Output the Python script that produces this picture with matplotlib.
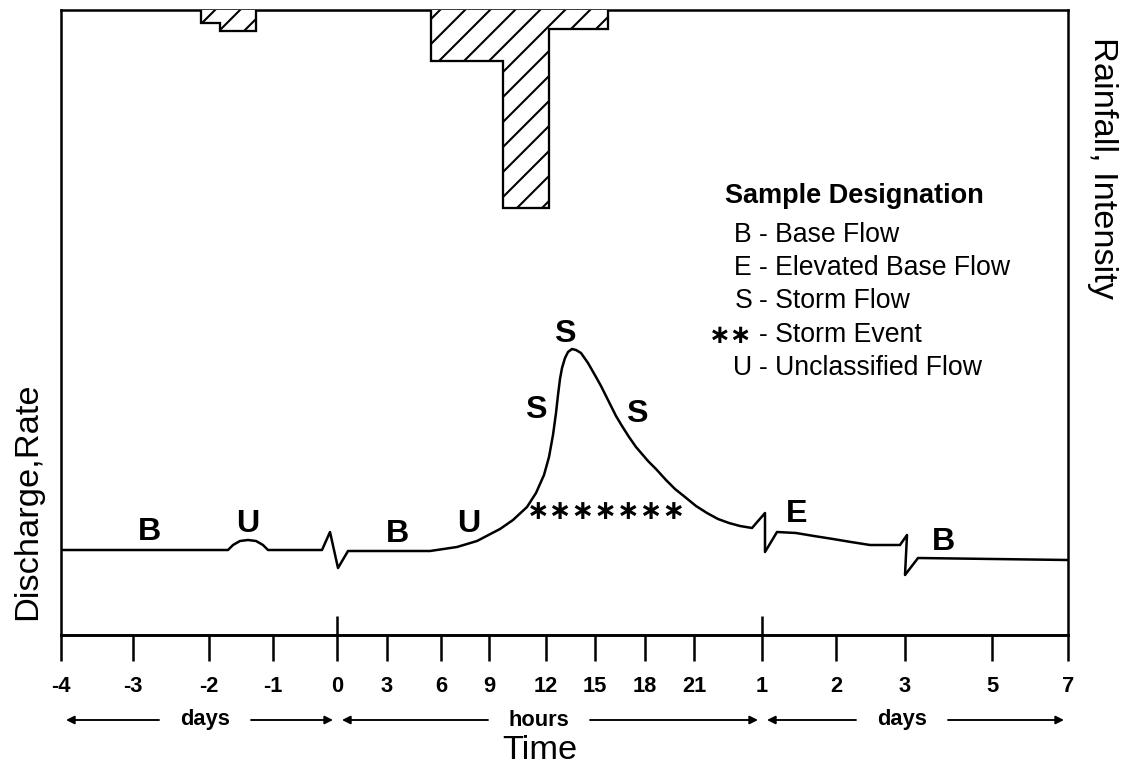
import matplotlib
matplotlib.use('Agg')
import matplotlib.pyplot as plt

plt.rcParams['font.family'] = ['Liberation Sans', 'DejaVu Sans']
plt.rcParams['hatch.linewidth'] = 1.0

# ---------------- data (schematic chart units) ----------------
# position along the (piecewise) time axis
tick_pos = [61, 133, 209, 273, 337, 387, 441, 489, 546, 595, 645, 694, 762, 836, 905, 992, 1068]
tick_labels = ['-4', '-3', '-2', '-1', '0', '3', '6', '9', '12', '15', '18', '21', '1', '2', '3', '5', '7']
major_pos = [337, 762]

# time-unit spans under the axis: (start, end, unit, label centre)
span_start = [61, 337, 762]
span_end = [337, 762, 1068]
span_unit = ['days', 'hours', 'days']
span_center = [205, 539, 902]

# discharge hydrograph (schematic)
flow_x = [61, 228, 233, 240, 248, 256, 263, 268, 322, 330, 338, 348, 430, 457, 477, 500,
          513, 527, 536, 544, 549, 553, 556, 558, 560, 562, 565, 568, 572, 576, 581, 588,
          596, 601, 606, 616, 622, 629, 636, 648, 656, 666, 675, 685, 696, 707, 718, 729,
          740, 752, 765, 765, 777, 796, 814, 833, 851, 870, 900, 907, 905, 918, 1068]
flow_y = [85, 85, 90, 94, 95, 94, 90, 85, 85, 103, 67, 84, 84, 88, 94, 106,
          115, 128, 142, 160, 178, 200, 222, 240, 256, 267, 277, 283, 286, 285, 282, 272,
          258, 249, 239, 219, 209, 198, 188, 174, 166, 155, 146, 138, 129, 122, 116, 112,
          109, 107, 122, 83, 103, 102, 99, 96, 93, 90, 90, 100, 60, 77, 75]

# rainfall intensity (hanging bars from the top)
rain_edges = [201, 220, 256, 431, 503, 549, 608]
rain_depth = [13, 21, 0, 51, 198, 19]

# sample designation letters on the hydrograph
samp_text = ['B', 'U', 'B', 'U', 'S', 'S', 'S', 'E', 'B']
samp_x = [149, 248, 397, 469, 536, 565, 637, 797, 944]
samp_y = [95, 103, 93, 103, 217, 293, 213, 113, 85]
storm_text = '\u2217' * 7
storm_x, storm_y = 606, 123

legend_title = 'Sample Designation'
legend_keys = ['B', 'E', 'S', '\u2217\u2217', 'U']
legend_desc = ['- Base Flow', '- Elevated Base Flow', '- Storm Flow', '- Storm Event',
               '- Unclassified Flow']
legend_y = [393, 360, 327, 293, 260]

# ---------------- figure ----------------
fig = plt.figure(figsize=(7.5, 767 / 150), dpi=150)
ax = fig.add_axes([61 / 1125, 132 / 767, 1007 / 1125, 625 / 767])
ax.set_xlim(61, 1068)
ax.set_ylim(0, 625)

for sp in ax.spines.values():
    sp.set_linewidth(1.2)
ax.spines['bottom'].set_linewidth(1.4)

ax.plot(flow_x, flow_y, color='black', lw=1.2, solid_joinstyle='round', solid_capstyle='round')

ax2 = ax.twinx()
ax2.set_ylim(625, 0)
ax2.stairs(rain_depth, rain_edges, baseline=0, fill=True, facecolor='white',
           edgecolor='black', hatch='//', lw=1.1)
ax2.set_yticks([])
for sp in ax2.spines.values():
    sp.set_visible(False)

ax.set_yticks([])
ax.set_xticks(tick_pos, tick_labels)
ax.tick_params(axis='x', direction='out', length=12.5, width=1.2, pad=7, labelsize=10.5)
for lbl in ax.get_xticklabels():
    lbl.set_fontweight('bold')
ax.vlines(major_pos, 0, 19, color='black', lw=1.2, clip_on=False)

# unit arrows
for a, b, unit, c in zip(span_start, span_end, span_unit, span_center):
    ax.text(c, -85, unit, ha='center', va='center', fontsize=10.5, fontweight='bold',
            clip_on=False)
    gap = 26 + 5 * len(unit)
    ap = dict(arrowstyle='-|>', color='black', lw=0.9, mutation_scale=8, shrinkA=0, shrinkB=0)
    ax.annotate('', xy=(a + 5, -85), xytext=(c - gap, -85), arrowprops=ap, annotation_clip=False)
    ax.annotate('', xy=(b - 4, -85), xytext=(c + gap, -85), arrowprops=ap, annotation_clip=False)

# labels
ax.set_xlabel('Time', fontsize=16.5)
ax.xaxis.set_label_coords((540 - 61) / 1007, (635 - 735) / 625)
ax.set_ylabel('Discharge,Rate', fontsize=16.5, va='center', ha='center')
ax.yaxis.set_label_coords((28 - 61) / 1007, (635 - 501) / 625)
ax2.set_ylabel('Rainfall, Intensity', fontsize=16.5, rotation=270, va='center', ha='center')
ax2.yaxis.set_label_coords((1102 - 61) / 1007, (635 - 168) / 625)

for t, x, y in zip(samp_text, samp_x, samp_y):
    ax.text(x, y, t, ha='center', va='baseline', fontsize=15.5, fontweight='bold')
ax.text(storm_x, storm_y, storm_text, ha='center', va='center', fontsize=13,
        family='DejaVu Sans', fontweight='bold')

ax.text(725, 432, legend_title, ha='left', va='baseline', fontsize=13, fontweight='bold')
for k, d, y in zip(legend_keys, legend_desc, legend_y):
    if '\u2217' in k:
        ax.text(752, y + 6, k, ha='right', va='center', fontsize=12.5, family='DejaVu Sans',
                fontweight='bold')
    else:
        ax.text(752, y, k, ha='right', va='baseline', fontsize=12.8)
    ax.text(759, y, d, ha='left', va='baseline', fontsize=12.8)

fig.savefig('out.png', dpi=150)
